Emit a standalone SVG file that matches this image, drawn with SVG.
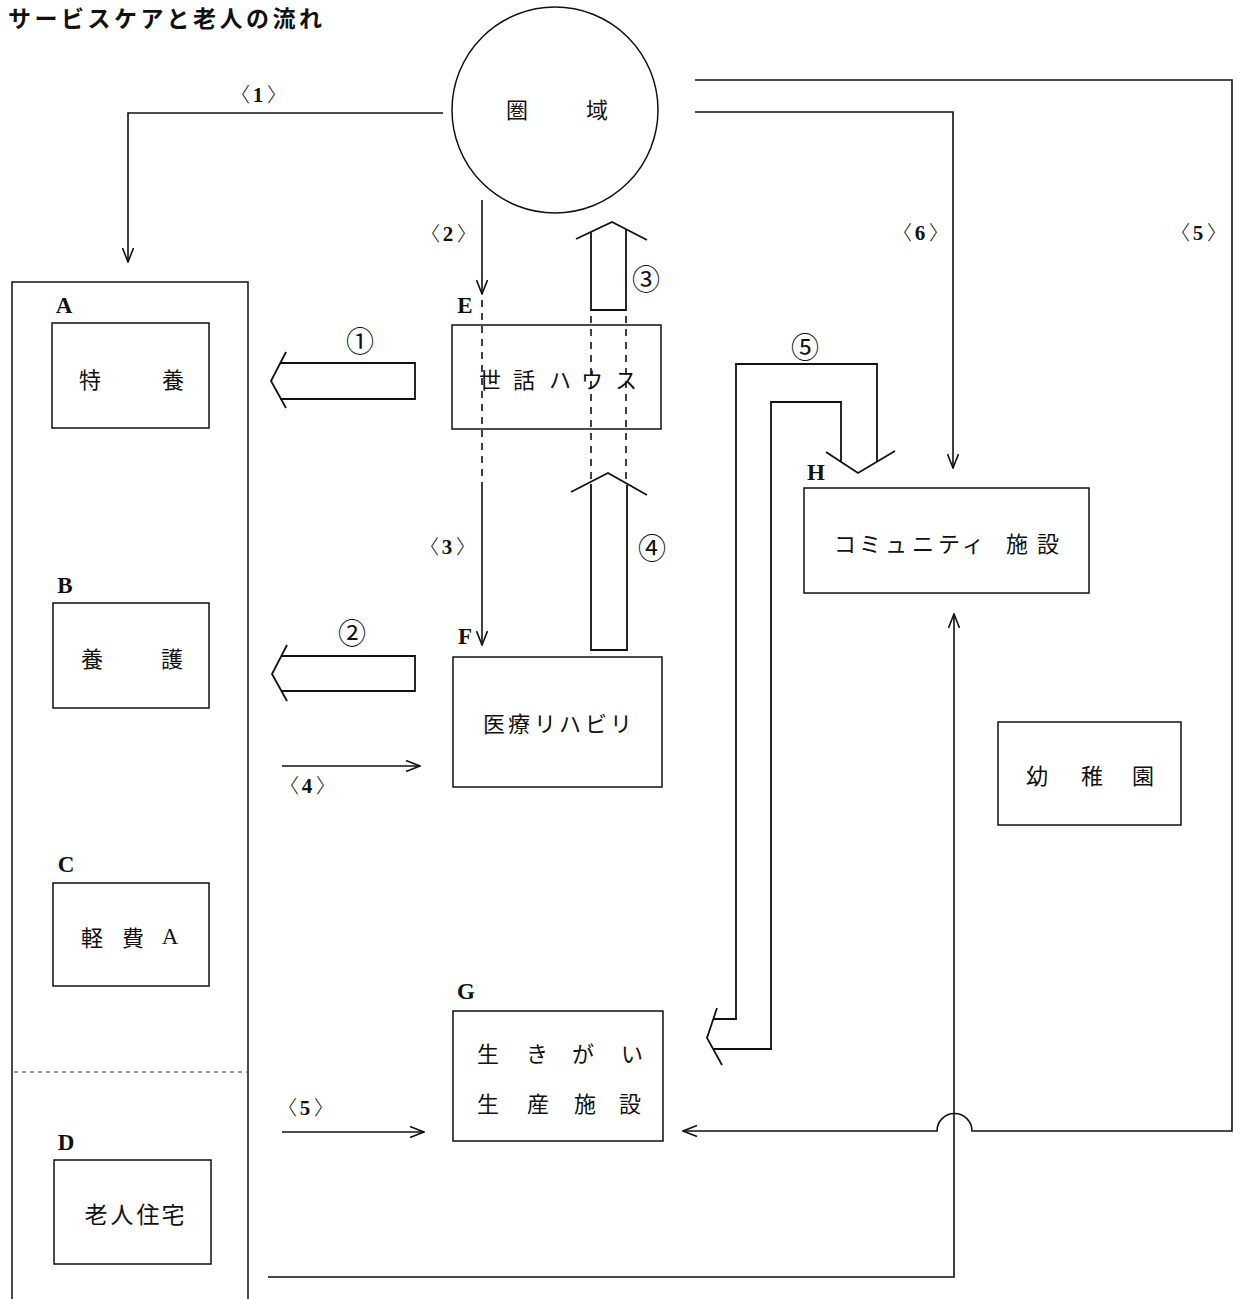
<svg xmlns="http://www.w3.org/2000/svg" width="1245" height="1299" viewBox="0 0 1245 1299">
  <defs>
    <marker id="open-head" viewBox="0 0 16 12" refX="15" refY="6" markerWidth="16" markerHeight="12" markerUnits="userSpaceOnUse" orient="auto">
      <path d="M1,0.5 L15,6 L1,11.5" fill="none" stroke="#111" stroke-width="1.6"/>
    </marker>
    <style>
      .box { fill: #fff; stroke: #111; stroke-width: 1.5; }
      .line { fill: none; stroke: #111; stroke-width: 1.6; }
      .dash { fill: none; stroke: #111; stroke-width: 1.6; stroke-dasharray: 7 6; }
      .thin-dash { fill: none; stroke: #333; stroke-width: 1; stroke-dasharray: 4 4; }
      .hollow { fill: none; stroke: #111; stroke-width: 1.8; stroke-linejoin: miter; }
      .jp { font-family: "Noto Sans CJK JP", sans-serif; font-size: 22px; fill: #111; text-anchor: middle; dominant-baseline: central; }
      .letter { font-family: "Liberation Serif", serif; font-weight: bold; font-size: 23px; fill: #111; text-anchor: middle; }
      .tag { font-family: "Noto Sans CJK JP", sans-serif; font-size: 20px; font-weight: 300; fill: #111; text-anchor: middle; }
      .tag .d { font-family: "Liberation Serif", serif; font-weight: bold; font-size: 21px; }
      .num { font-family: "Noto Sans CJK JP", sans-serif; font-size: 28px; fill: #111; text-anchor: middle; dominant-baseline: central; }
      .title { font-family: "Noto Sans CJK JP", sans-serif; font-weight: bold; font-size: 23px; letter-spacing: 3.5px; fill: #111; }
    </style>
  </defs>

  <rect width="1245" height="1299" fill="#fff"/>

  <text class="title" x="8" y="27">サービスケアと老人の流れ</text>

  <!-- residential facilities column -->
  <g id="column">
    <path class="line" d="M12,1299 L12,282 L248,282 L248,1299" style="stroke-width:1.5"/>
    <line class="thin-dash" x1="14" y1="1072" x2="247" y2="1072"/>
  </g>

  <g id="node-A">
    <text class="letter" x="64" y="313">A</text>
    <rect class="box" x="52" y="323" width="157" height="105"/>
    <text class="jp" x="90 173" y="378">特養</text>
  </g>
  <g id="node-B">
    <text class="letter" x="65" y="593">B</text>
    <rect class="box" x="53" y="603" width="156" height="105"/>
    <text class="jp" x="92 172" y="657">養護</text>
  </g>
  <g id="node-C">
    <text class="letter" x="66" y="872">C</text>
    <rect class="box" x="53" y="883" width="156" height="103"/>
    <text class="jp" x="92 133" y="936">軽費</text>
    <text class="letter" x="170" y="944" style="font-weight:normal">A</text>
  </g>
  <g id="node-D">
    <text class="letter" x="66" y="1150">D</text>
    <rect class="box" x="54" y="1160" width="157" height="104"/>
    <text class="jp" x="96 122 148 173" y="1213" style="font-size:23px">老人住宅</text>
  </g>

  <!-- catchment area -->
  <g id="node-area">
    <circle class="box" cx="555" cy="110" r="103"/>
    <text class="jp" x="517 597" y="108">圏域</text>
  </g>

  <g id="node-E">
    <text class="letter" x="465" y="313">E</text>
    <rect class="box" x="452" y="325" width="209" height="104"/>
    <text class="jp" x="490 524 560 592 626" y="378">世話ハウス</text>
  </g>
  <g id="node-F">
    <text class="letter" x="465" y="644">F</text>
    <rect class="box" x="453" y="657" width="209" height="130"/>
    <text class="jp" x="494 519 545 570 596 621" y="722">医療リハビリ</text>
  </g>
  <g id="node-G">
    <text class="letter" x="466" y="999">G</text>
    <rect class="box" x="453" y="1011" width="210" height="130"/>
    <text class="jp" x="488 537 583 632" y="1052">生きがい</text>
    <text class="jp" x="488 538 585 630" y="1102">生産施設</text>
  </g>
  <g id="node-H">
    <text class="letter" x="816" y="480">H</text>
    <rect class="box" x="804" y="488" width="285" height="105"/>
    <text class="jp" x="845 870 896 923 949 973 1017 1048" y="542">コミュニティ施設</text>
  </g>
  <g id="node-kindergarten">
    <rect class="box" x="998" y="722" width="183" height="103"/>
    <text class="jp" x="1037 1092 1143" y="774">幼稚園</text>
  </g>

  <!-- connectors -->
  <g id="connectors">
    <!-- <1> area to column -->
    <path class="line" d="M443,113 L128,113 L128,262" marker-end="url(#open-head)"/>
    <text class="tag" x="240" y="102">〈<tspan class="d" x="258">1</tspan><tspan x="277">〉</tspan></text>

    <!-- <2> area to E, <3> E to F -->
    <line class="line" x1="482" y1="200" x2="482" y2="294" marker-end="url(#open-head)"/>
    <line class="dash" x1="482" y1="300" x2="482" y2="480"/>
    <line class="line" x1="482" y1="482" x2="482" y2="645" marker-end="url(#open-head)"/>
    <text class="tag" x="430" y="241">〈<tspan class="d" x="448">2</tspan><tspan x="467">〉</tspan></text>
    <text class="tag" x="429" y="554">〈<tspan class="d" x="447">3</tspan><tspan x="466">〉</tspan></text>

    <!-- <6> area to H -->
    <path class="line" d="M695,112 L953,112 L953,468" marker-end="url(#open-head)"/>
    <text class="tag" x="902" y="240">〈<tspan class="d" x="920">6</tspan><tspan x="939">〉</tspan></text>

    <!-- <5> area round to G, hopping over the D to H line -->
    <path class="line" d="M695,80 L1232,80 L1232,1131 L972,1131 A17.5,17.5 0 0 0 937,1131 L683,1131" marker-end="url(#open-head)"/>
    <text class="tag" x="1180" y="240">〈<tspan class="d" x="1198">5</tspan><tspan x="1217">〉</tspan></text>

    <!-- D to H -->
    <path class="line" d="M268,1277 L954,1277 L954,614" marker-end="url(#open-head)"/>

    <!-- <4> column to F, <5> column to G -->
    <line class="line" x1="282" y1="766" x2="420" y2="766" marker-end="url(#open-head)"/>
    <text class="tag" x="289" y="793">〈<tspan class="d" x="307">4</tspan><tspan x="326">〉</tspan></text>
    <line class="line" x1="282" y1="1132" x2="424" y2="1132" marker-end="url(#open-head)"/>
    <text class="tag" x="287" y="1115">〈<tspan class="d" x="305">5</tspan><tspan x="324">〉</tspan></text>

    <!-- (1) E to A -->
    <path class="hollow" d="M280,363 L415,363 L415,399 L280,399 M286,352 L271,381 L286,408"/>
    <text class="num" x="360" y="340">①</text>

    <!-- (2) F to B -->
    <path class="hollow" d="M281,656 L415,656 L415,691 L281,691 M287,645 L272,674 L287,701"/>
    <text class="num" x="352" y="632">②</text>

    <!-- (3) E to area -->
    <path class="hollow" d="M591,232 L591,310 L626,310 L626,230 M576,239 L612,222 L647,240"/>
    <line class="dash" x1="591" y1="316" x2="591" y2="482"/>
    <line class="dash" x1="626" y1="316" x2="626" y2="482"/>
    <text class="num" x="646" y="278">③</text>

    <!-- (4) F to E -->
    <path class="hollow" d="M591,484 L591,650 L627,650 L627,485 M571,492 L608,473 L647,495"/>
    <text class="num" x="652" y="547">④</text>

    <!-- (5) H and G, two-way -->
    <path class="hollow" d="M877,462 L877,364 L736,364 L736,1019 L713,1019 M841,462 L841,402 L771,402 L771,1049 L713,1049 M826,452 L858,473 L895,451 M717,1008 L707,1038 L722,1065"/>
    <text class="num" x="805" y="346">⑤</text>
  </g>
</svg>
